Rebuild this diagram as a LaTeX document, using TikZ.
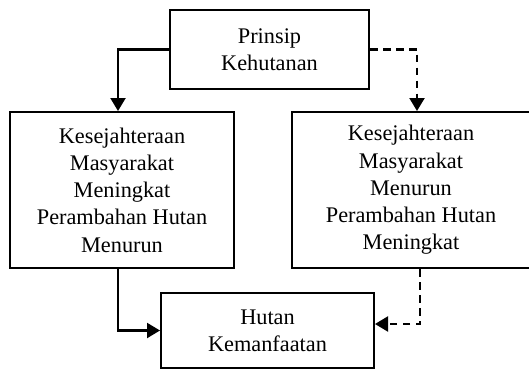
\documentclass[tikz,border=0pt]{standalone}
\usepackage{fontspec}
\setmainfont{Liberation Serif}
\usetikzlibrary{arrows.meta}
\begin{document}
\begin{tikzpicture}[x=1pt,y=-1pt,
  box/.style={draw,line width=2pt,inner sep=0pt,align=center,
    font=\fontsize{22.3}{27.3}\selectfont},
  conn/.style={line width=2.2pt,-{Triangle[length=13pt,width=15pt]}},
  dconn/.style={conn,dash pattern=on 7.5pt off 5.5pt}]
\useasboundingbox (0,0) rectangle (529,369);
\node[box,minimum width=199pt,minimum height=79pt] (top) at (269.5,49.5) {Prinsip\\Kehutanan};
\node[box,minimum width=224pt,minimum height=156pt] (left) at (122,190) {Kesejahteraan\\Masyarakat\\Meningkat\\Perambahan Hutan\\Menurun};
\node[box,minimum width=238pt,minimum height=156pt] (right) at (411,190) {Kesejahteraan\\Masyarakat\\Menurun\\Perambahan Hutan\\Meningkat};
\node[box,minimum width=213pt,minimum height=75pt] (bot) at (267.5,330.5) {Hutan\\Kemanfaatan};
\draw[conn] (top.west) -| ([xshift=-4pt]left.north);
\draw[dconn] (top.east) -| ([xshift=6pt]right.north);
\draw[conn] ([xshift=-4pt]left.south) |- (bot.west);
\draw[dconn] ([xshift=9pt]right.south) |- ([yshift=6.5pt]bot.east);
\end{tikzpicture}
\end{document}
